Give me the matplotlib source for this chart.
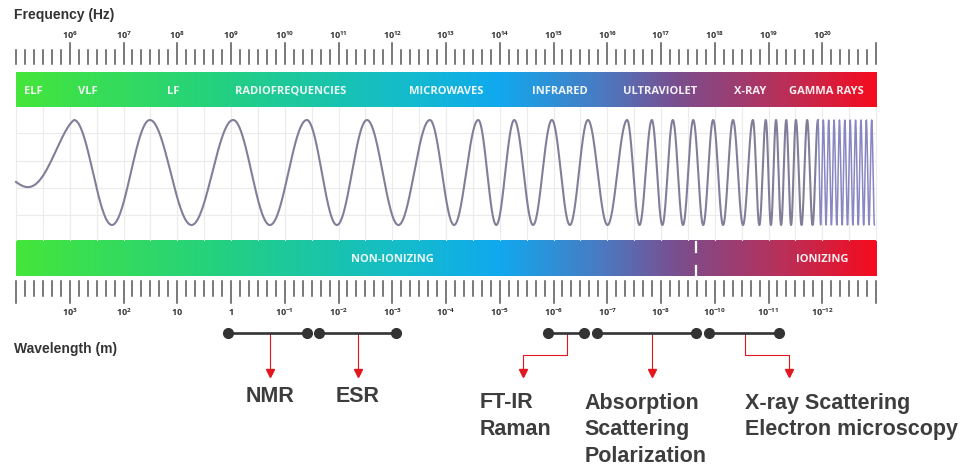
import numpy as np
import matplotlib.pyplot as plt
from matplotlib.colors import LinearSegmentedColormap

plt.rcParams['mathtext.fontset'] = 'custom'
plt.rcParams['mathtext.rm'] = 'Open Sans:bold'
plt.rcParams['mathtext.default'] = 'rm'

# x axis = log10(frequency / Hz)
freq_exp = list(range(6, 21))
wavelength_labels = ['10^{3}', '10^{2}', '10', '1', '10^{-1}', '10^{-2}', '10^{-3}', '10^{-4}',
                     '10^{-5}', '10^{-6}', '10^{-7}', '10^{-8}', '10^{-10}', '10^{-11}', '10^{-12}']

bands = ['ELF', 'VLF', 'LF', 'RADIOFREQUENCIES', 'MICROWAVES', 'INFRARED', 'ULTRAVIOLET', 'X-RAY', 'GAMMA RAYS']
band_pos = [5.32, 6.34, 7.93, 10.10, 13.00, 15.12, 16.98, 18.66, 20.07]

ionizing_split = 17.65

# crest positions of the illustrated wave
wave_peaks = [6.08, 7.49, 9.04, 10.41, 11.53, 12.70, 13.60, 14.27, 14.97, 15.64,
              16.37, 16.83, 17.22, 17.60, 17.97, 18.34, 18.71, 18.95, 19.14, 19.33,
              19.51, 19.72, 19.92, 20.02, 20.12, 20.22, 20.32, 20.42, 20.52, 20.62,
              20.72, 20.82, 20.92]

techniques = [['NMR'], ['ESR'], ['FT-IR', 'Raman'],
              ['Absorption', 'Scattering', 'Polarization'],
              ['X-ray Scattering', 'Electron microscopy']]
tech_lo = [8.94, 10.64, 14.90, 15.81, 17.89]
tech_hi = [10.41, 12.07, 15.57, 17.65, 19.20]
tech_stem = [9.73, 11.36, 15.25, 16.83, 18.56]
tech_arrow = [9.73, 11.36, 14.43, 16.83, 19.38]

# layout
text_x = [9.73, 11.36, 13.63, 15.57, 18.56]
text_ha = ['center', 'center', 'left', 'left', 'left']
text_y = [397, 397, 403, 403, 403]

u0, u1 = 5, 21
px = 53.75  # pixels per decade
W, H = 969, 466

fig = plt.figure(figsize=(W / 100, H / 100), dpi=100)
ax = fig.add_axes([0, 0, 1, 1])

spec = LinearSegmentedColormap.from_list('spec', [
    (0.00, '#44e63a'), (0.25, '#22cf84'), (0.45, '#14bccb'), (0.56, '#10a9ef'),
    (0.68, '#4a7ac2'), (0.77, '#7a4e8e'), (0.89, '#b8305a'), (1.00, '#f50c1e')])
grad = np.linspace(0, 1, 512)[None, :]
ax.imshow(grad, cmap=spec, extent=(u0, u1, 107, 72), aspect='auto', interpolation='bilinear')
ax.imshow(grad, cmap=spec, extent=(u0, u1, 276, 240), aspect='auto', interpolation='bilinear')

# grid behind the wave
for g in np.arange(u0, u1 + 0.01, 0.5):
    ax.plot([g, g], [107, 240], color='#ebebeb', lw=0.8, zorder=1)
for gy in [133, 161, 188, 215]:
    ax.plot([u0, u1], [gy, gy], color='#ebebeb', lw=0.8, zorder=1)

# wave: a trough at the left edge, then phase 2*pi*k at each crest
u = np.linspace(u0, wave_peaks[-1] + 0.05, 6000)
crest_phase = 2 * np.pi * np.arange(len(wave_peaks))
phase = np.interp(u, [u0] + wave_peaks + [wave_peaks[-1] + 0.05],
                  np.concatenate([[-np.pi], crest_phase, [crest_phase[-1] + np.pi]]))
amp = np.interp(u, [u0, wave_peaks[0]], [0.18, 1.0])
wy = 172.5 - 52.5 * amp * np.cos(phase)
split = np.searchsorted(u, wave_peaks[22])
ax.plot(u[:split + 1], wy[:split + 1], color='#827e9a', lw=1.5, zorder=3)
ax.plot(u[split:], wy[split:], color='#8a86c2', lw=1.1, zorder=3)

# ticks
ticks = np.arange(u0, u1 + 0.01, 1 / 6)
for t in ticks:
    on_decade = abs(t - round(t)) < 1e-6
    ax.plot([t, t], [64, 43 if on_decade and round(t) > u0 else 50], color='#555555', lw=1.1)
    ax.plot([t, t], [281, 303 if on_decade else 296], color='#555555', lw=1.1)

for e in freq_exp:
    ax.text(e, 35, '$10^{%d}$' % e, ha='center', va='center', fontsize=6.5, color='#333333')
for e, lab in zip(freq_exp, wavelength_labels):
    ax.text(e, 312, '$%s$' % lab, ha='center', va='center', fontsize=6.5, color='#333333')

ax.text(u0 - 2 / px, 15, 'Frequency (Hz)', ha='left', va='center',
        fontsize=10, fontweight='bold', family='Liberation Sans', color='#333333')
ax.text(u0 - 2 / px, 349, 'Wavelength (m)', ha='left', va='center',
        fontsize=10, fontweight='bold', family='Liberation Sans', color='#333333')

for name, p in zip(bands, band_pos):
    ax.text(p, 91, name, ha='center', va='center', fontsize=8, fontweight='bold',
            family='Open Sans', color='white', alpha=0.92)

ax.text(12.0, 259, 'NON-IONIZING', ha='center', va='center', fontsize=8, fontweight='bold',
        family='Open Sans', color='white', alpha=0.92)
ax.text(20.0, 259, 'IONIZING', ha='center', va='center', fontsize=8, fontweight='bold',
        family='Open Sans', color='white', alpha=0.92)
ax.plot([ionizing_split, ionizing_split], [242, 252], color='white', lw=1.6)
ax.plot([ionizing_split, ionizing_split], [266, 276], color='white', lw=1.6)

# technique ranges with pointers
red = '#e3161e'
for lines, lo, hi, st, ar, tx, ha, ty in zip(techniques, tech_lo, tech_hi, tech_stem,
                                              tech_arrow, text_x, text_ha, text_y):
    if st == ar:
        ax.plot([st, st], [333, 368], color=red, lw=0.8, zorder=2)
    else:
        ax.plot([st, st, ar, ar], [333, 355, 355, 368], color=red, lw=0.8, zorder=2)
    ax.plot(ar, 373, marker='v', ms=6, color=red, mec=red, zorder=2)
    ax.plot([lo, hi], [333, 333], '-o', color='#333333', lw=1.9, ms=7, zorder=4)
    for i, s in enumerate(lines):
        ax.text(tx, ty + 26.5 * i, s, ha=ha, va='center', fontsize=15.5, fontweight='bold',
                family='Liberation Sans', color='#3d3d3d')

ax.set_xlim(u0 - 16 / px, u0 + (W - 16) / px)
ax.set_ylim(H, 0)
ax.axis('off')
fig.savefig('out.png', dpi=100)
